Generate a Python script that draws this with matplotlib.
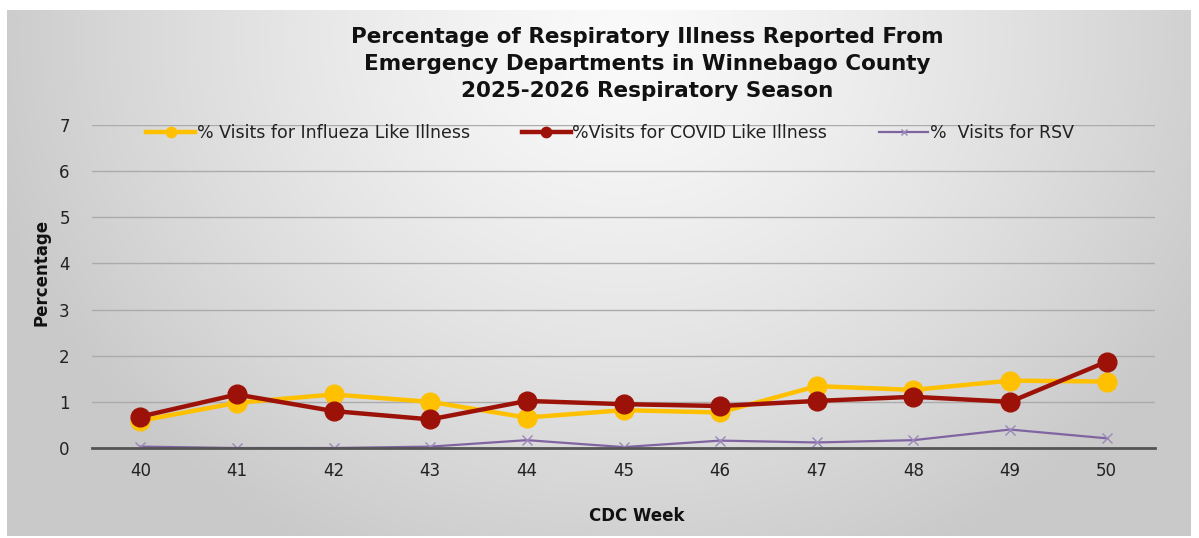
import numpy as np
import matplotlib
matplotlib.use("Agg")
import matplotlib.pyplot as plt

weeks = ["40", "41", "42", "43", "44", "45", "46", "47", "48", "49", "50"]
flu = [0.59, 0.98, 1.16, 1.00, 0.66, 0.82, 0.77, 1.34, 1.26, 1.46, 1.44]
covid = [0.68, 1.16, 0.80, 0.62, 1.02, 0.95, 0.91, 1.02, 1.11, 1.00, 1.87]
rsv = [0.03, 0.00, 0.00, 0.03, 0.17, 0.02, 0.16, 0.12, 0.17, 0.40, 0.21]

title = ("Percentage of Respiratory Illness Reported From\n"
         "Emergency Departments in Winnebago County\n"
         "2025-2026 Respiratory Season")
lab_flu = "% Visits for Influeza Like Illness"
lab_covid = "%Visits for COVID Like Illness"
lab_rsv = "%  Visits for RSV"

W, H = 1199, 538
fig = plt.figure(figsize=(W / 100, H / 100), dpi=100)
fig.patch.set_facecolor("white")

# gradient background panel
bg = fig.add_axes([7 / W, 2 / H, (1191 - 7) / W, (528 - 2) / H])
bg.set_axis_off()
ny, nx = 300, 600
yy, xx = np.mgrid[0:ny, 0:nx]
cx, cy = nx * 0.52, ny * 0.05
d = np.sqrt(((xx - cx) / (nx * 0.55)) ** 2 + ((yy - cy) / (ny * 1.1)) ** 2)
d = np.clip(d, 0, 1)
val = 0.98 - 0.19 * d ** 1.3
bg.imshow(np.dstack([val, val, val]), aspect="auto", extent=[0, 1, 0, 1], origin="upper")
bg.set_xlim(0, 1)
bg.set_ylim(0, 1)

ax = fig.add_axes([92 / W, 1 - 448 / H, (1155 - 92) / W, (448 - 125) / H])
ax.patch.set_alpha(0)
x = np.arange(len(weeks))

ax.plot(x, flu, color="#FFC000", lw=3.2, marker="o", ms=13.5, zorder=3, label=lab_flu)
ax.plot(x, covid, color="#9C1208", lw=3.2, marker="o", ms=13.5, zorder=4, label=lab_covid)
ax.plot(x, rsv, color="#8064A2", lw=1.6, marker="x", ms=7, mew=1.0, mec="#9A86B8", zorder=2, label=lab_rsv)

ax.set_xlim(-0.5, len(weeks) - 0.5)
ax.set_ylim(0, 7)
ax.set_yticks(range(0, 8))
ax.set_xticks(x)
ax.set_xticklabels(weeks)
ax.grid(axis="y", color="#ABABAB", lw=1.0)
ax.set_axisbelow(True)
for s in ["top", "right", "left"]:
    ax.spines[s].set_visible(False)
ax.spines["bottom"].set_color("#555555")
ax.spines["bottom"].set_linewidth(2.0)
ax.tick_params(axis="both", length=0, labelsize=12, colors="#222222")
ax.tick_params(axis="y", pad=16)
ax.tick_params(axis="x", pad=10)
for t in ax.get_xticklabels() + ax.get_yticklabels():
    t.set_fontfamily("DejaVu Sans")

leg = ax.legend(loc="center", bbox_to_anchor=(610 / W, 1 - 133 / H), bbox_transform=fig.transFigure,
                ncol=3, frameon=False, handlelength=2.8, handletextpad=0.1, columnspacing=3.0,
                prop={"family": "DejaVu Sans", "size": 12.5}, markerscale=0.55)
for t in leg.get_texts():
    t.set_color("#222222")

fig.text(647 / W, 1 - 64 / H, title, ha="center", va="center", fontsize=15.5,
         fontweight="bold", family="DejaVu Sans", linespacing=1.45, color="#111111")
fig.text(42 / W, 1 - 272 / H, "Percentage", rotation=90, ha="center", va="center",
         fontsize=12, fontweight="bold", family="DejaVu Sans", color="#111111")
fig.text(637 / W, 1 - 516 / H, "CDC Week", ha="center", va="center",
         fontsize=12, fontweight="bold", family="DejaVu Sans", color="#111111")

fig.savefig("out.png", dpi=100)
